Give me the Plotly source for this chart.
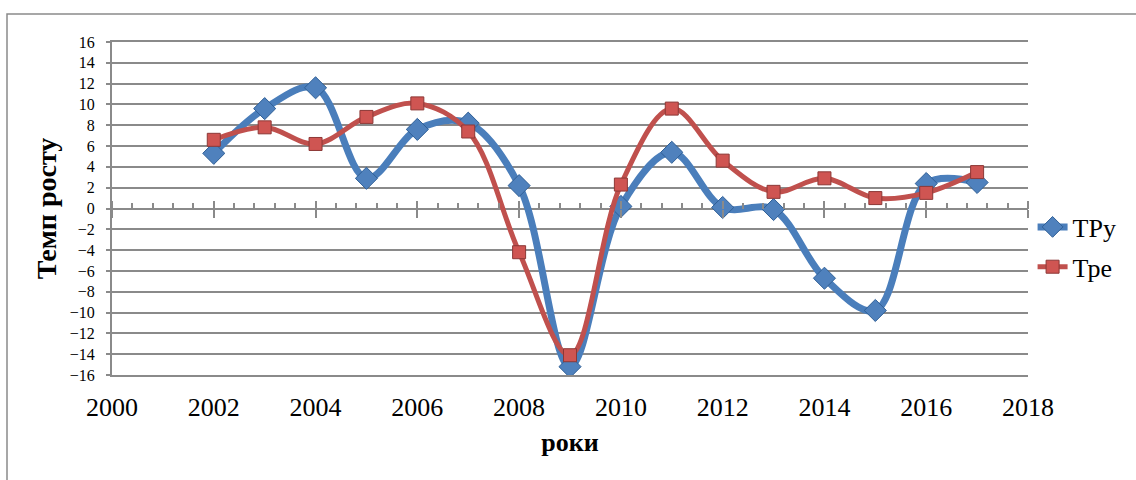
import plotly.graph_objects as go

years = list(range(2002, 2018))
tpu = [5.3, 9.6, 11.6, 2.9, 7.6, 8.2, 2.2, -15.2, 0.2, 5.4, 0.1, -0.1, -6.7, -9.8, 2.4, 2.5]
tpe = [6.6, 7.8, 6.2, 8.8, 10.1, 7.4, -4.2, -14.1, 2.3, 9.6, 4.6, 1.6, 2.9, 1.0, 1.5, 3.5]
name_u = "ТРу"
name_e = "Тре"
y_title = "Темп росту"
x_title = "роки"

FONT = "Liberation Serif"
GRID = "#8a8a8a"
BLUE = "#4a7ebb"
RED = "#c0504d"

fig = go.Figure()
fig.add_trace(go.Scatter(
    x=years, y=tpu, name=name_u, mode="lines+markers",
    line=dict(color=BLUE, width=7, shape="spline", smoothing=1.0),
    marker=dict(symbol="diamond", size=17, color="#4f81bd",
                line=dict(color="#2f5f96", width=1)),
    legendgroup="u",
))
fig.add_trace(go.Scatter(
    x=years, y=tpe, name=name_e, mode="lines+markers",
    line=dict(color=RED, width=5, shape="spline", smoothing=1.0),
    marker=dict(symbol="square", size=13, color="#cf5552",
                line=dict(color="#8c3836", width=1)),
    legendgroup="e",
))
# helper (empty) traces so the tick axes at zero are drawn
fig.add_trace(go.Scatter(x=[], y=[], xaxis="x2", showlegend=False, hoverinfo="skip"))
fig.add_trace(go.Scatter(x=[], y=[], xaxis="x3", showlegend=False, hoverinfo="skip"))

fig.update_layout(
    width=1136, height=480,
    margin=dict(l=112, r=108, t=42, b=105, autoexpand=False),
    paper_bgcolor="white", plot_bgcolor="white",
    font=dict(family=FONT, color="black"),
    showlegend=True,
    legend=dict(x=1.005, y=0.515, xanchor="left", yanchor="top",
                font=dict(size=26, family=FONT), tracegroupgap=3,
                bgcolor="rgba(0,0,0,0)"),
    xaxis=dict(range=[2000, 2018], dtick=2, tick0=2000, showgrid=False,
               zeroline=False, showline=True, linecolor=GRID, linewidth=1.5,
               mirror=True, ticks="outside", ticklen=8,
               tickcolor="rgba(0,0,0,0)",
               tickfont=dict(size=26, family=FONT),
               title=dict(text="<b>" + x_title + "</b>",
                          font=dict(size=26, family=FONT), standoff=12)),
    xaxis2=dict(range=[2000, 2018], overlaying="x", anchor="free", position=0.5,
                side="bottom", dtick=2, tick0=2000, showgrid=False, zeroline=False,
                showline=False, showticklabels=False, ticks="outside",
                ticklen=8, tickwidth=1.5, tickcolor=GRID,
                minor=dict(dtick=0.4, tick0=2000, ticks="inside", ticklen=6,
                           tickwidth=1.5, tickcolor=GRID, showgrid=False)),
    xaxis3=dict(range=[2000, 2018], overlaying="x", anchor="free", position=0.5,
                side="top", dtick=2, tick0=2000, showgrid=False, zeroline=False,
                showline=False, showticklabels=False, ticks="outside",
                ticklen=8, tickwidth=1.5, tickcolor=GRID),
    yaxis=dict(range=[-16, 16], dtick=2, tick0=-16, showgrid=True,
               gridcolor=GRID, gridwidth=1.5, zeroline=True,
               zerolinecolor=GRID, zerolinewidth=2,
               showline=True, linecolor=GRID, linewidth=2,
               ticks="outside", ticklen=4, tickcolor=GRID, tickwidth=1.5,
               ticklabelstandoff=8,
               tickfont=dict(size=16, family=FONT),
               title=dict(text="<b>" + y_title + "</b>",
                          font=dict(size=28, family=FONT), standoff=5)),
)

# outer chart border
fig.add_shape(type="rect", xref="paper", yref="paper",
              x0=(7 - 112) / 916, x1=(1140 - 112) / 916,
              y0=(375 - 490) / 333, y1=(375 - 14) / 333,
              line=dict(color="#8a8a8a", width=1.5), fillcolor="rgba(0,0,0,0)",
              layer="below")

fig.write_html("out.html", config={"displayModeBar": False},
               post_script="document.body.style.margin='0';")
